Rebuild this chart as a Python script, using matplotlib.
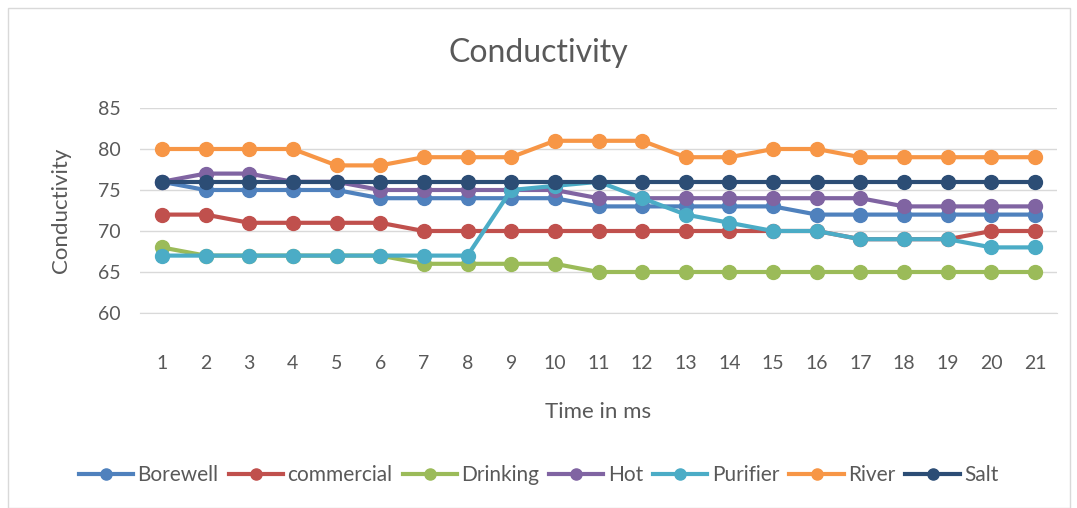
import numpy as np
import matplotlib
matplotlib.use('Agg')
import matplotlib.pyplot as plt
from matplotlib.patches import Rectangle

plt.rcParams['font.family'] = ['Lato', 'DejaVu Sans']

x = np.arange(1, 22)
borewell = [76, 75, 75, 75, 75, 74, 74, 74, 74, 74, 73, 73, 73, 73, 73, 72, 72, 72, 72, 72, 72]
commercial = [72, 72, 71, 71, 71, 71, 70, 70, 70, 70, 70, 70, 70, 70, 70, 70, 69, 69, 69, 70, 70]
drinking = [68, 67, 67, 67, 67, 67, 66, 66, 66, 66, 65, 65, 65, 65, 65, 65, 65, 65, 65, 65, 65]
hot = [76, 77, 77, 76, 76, 75, 75, 75, 75, 75, 74, 74, 74, 74, 74, 74, 74, 73, 73, 73, 73]
purifier = [67, 67, 67, 67, 67, 67, 67, 67, 75, 75.5, 76, 74, 72, 71, 70, 70, 69, 69, 69, 68, 68]
river = [80, 80, 80, 80, 78, 78, 79, 79, 79, 81, 81, 81, 79, 79, 80, 80, 79, 79, 79, 79, 79]
salt = [76] * 21

series = [('Borewell', borewell, '#4F81BD'),
          ('commercial', commercial, '#C0504D'),
          ('Drinking', drinking, '#9BBB59'),
          ('Hot', hot, '#8064A2'),
          ('Purifier', purifier, '#4BACC6'),
          ('River', river, '#F79646'),
          ('Salt', salt, '#2C4D75')]

grey = '#595959'
fig = plt.figure(figsize=(10.77, 5.08), dpi=100)
ax = fig.add_axes([140/1077, 1 - 313/508, (1057-140)/1077, (313-108)/508])

for name, vals, col in series:
    ax.plot(x, vals, '-o', color=col, lw=3, ms=10, label=name)

ax.set_xlim(0.5, 21.5)
ax.set_ylim(60, 85)
ax.set_yticks(range(60, 86, 5))
ax.set_xticks(x)
ax.yaxis.grid(True, color='#D9D9D9', lw=1)
ax.set_axisbelow(True)
for s in ax.spines.values():
    s.set_visible(False)
ax.spines['bottom'].set_visible(True)
ax.spines['bottom'].set_color('#D9D9D9')
ax.tick_params(length=0, labelsize=14, colors=grey)
ax.tick_params(axis='x', pad=30)
ax.tick_params(axis='y', pad=14)

ax.set_xlabel('Time in ms', fontsize=16, color=grey, labelpad=22)
ax.set_ylabel('Conductivity', fontsize=16, color=grey, labelpad=19)
fig.text(0.5, 1 - 53/508, 'Conductivity', ha='center', va='center', fontsize=23, color=grey)

fig.legend(loc='center', bbox_to_anchor=(0.5, 1 - 475/508), ncol=7, frameon=False,
           fontsize=15, handlelength=2.6, columnspacing=0.5, handletextpad=0.2,
           labelcolor=grey, markerscale=0.8)

fig.patches.append(Rectangle((8/1077, 0), (1070-8)/1077, 1 - 8/508, transform=fig.transFigure,
                             fill=False, edgecolor='#D9D9D9', lw=1))

plt.savefig('out.png', dpi=100)
